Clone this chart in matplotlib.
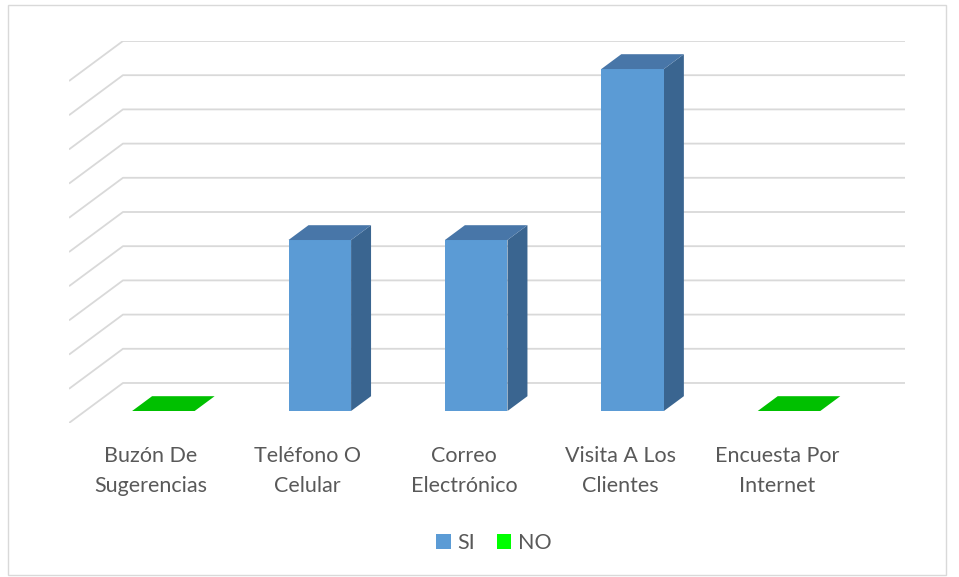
import numpy as np
import matplotlib
matplotlib.use("Agg")
import matplotlib.pyplot as plt
from matplotlib.patches import Polygon, Patch, Rectangle

plt.rcParams['font.family'] = ['Lato', 'DejaVu Sans']

# --- data -------------------------------------------------------------
categories = ["Buzón De\nSugerencias", "Teléfono O\nCelular", "Correo\nElectrónico",
              "Visita A Los\nClientes", "Encuesta Por\nInternet"]
si_values = [0, 5, 5, 10, 0]
no_values = [0, np.nan, np.nan, np.nan, 0]   # blank cells are not drawn
series_names = ["SI", "NO"]
y_max = 10

# --- styling ----------------------------------------------------------
si_front, si_top, si_side = "#5B9BD5", "#4876A8", "#3A6590"
no_front, no_top, no_side = "#00FF00", "#00C000", "#00A000"
grid_col = "#D9D9D9"
text_col = "#595959"

# oblique depth offset (full floor depth) in data units
DX, DY = 0.345, 1.17
D0, D1 = 0.30, 0.67       # bar depth span (fraction of floor depth)
BW = 0.4                  # bar width (category units)

W, H = 959, 577
fig = plt.figure(figsize=(W / 100, H / 100), dpi=100)
ax = fig.add_axes([69 / W, (H - 423) / H, (905 - 69) / W, (423 - 41) / H])
n = len(categories)
ax.set_xlim(0, n + DX)
ax.set_ylim(0, y_max + DY)
ax.axis("off")

# outer chart frame
fig.patches.append(Rectangle((8 / W, 2 / H), (946 - 8) / W, (572 - 2) / H,
                             transform=fig.transFigure, fill=False,
                             edgecolor=grid_col, lw=1.0))

# gridlines on side wall and back wall
for v in range(0, y_max + 1):
    ax.plot([0, DX, n + DX], [v, v + DY, v + DY], color=grid_col, lw=1.3,
            solid_capstyle="butt", zorder=1)


def box(x0, y0, h, front, top, side, z):
    """Draw an oblique 3-D column from (x0, y0) with height h."""
    fx0, fy0 = x0 + D0 * DX, y0 + D0 * DY
    ddx, ddy = (D1 - D0) * DX, (D1 - D0) * DY
    y1 = fy0 + h
    if h > 0:
        ax.add_patch(Polygon([(fx0 + BW, fy0), (fx0 + BW + ddx, fy0 + ddy),
                              (fx0 + BW + ddx, y1 + ddy), (fx0 + BW, y1)],
                             closed=True, fc=side, ec="none", zorder=z))
        ax.add_patch(Polygon([(fx0, fy0), (fx0 + BW, fy0), (fx0 + BW, y1), (fx0, y1)],
                             closed=True, fc=front, ec="none", zorder=z + 0.1))
    ax.add_patch(Polygon([(fx0, y1), (fx0 + BW, y1), (fx0 + BW + ddx, y1 + ddy),
                          (fx0 + ddx, y1 + ddy)],
                         closed=True, fc=top, ec="none", zorder=z + 0.2))


for i in range(n):
    x0 = i + 0.5 - BW / 2
    base = 0.0
    s = si_values[i]
    no = no_values[i]
    if s > 0:
        box(x0, base, s, si_front, si_top, si_side, 3 + i)
        base += s
    if not np.isnan(no):
        if no > 0 or s == 0:
            box(x0, base, no, no_front, no_top, no_side, 3.5 + i)
    ax.text(i + 0.5 + 0.025, -0.68, categories[i], ha="center", va="top",
            fontsize=15.5, color=text_col, linespacing=1.62)

handles = [Patch(facecolor=si_front, edgecolor="none"),
           Patch(facecolor=no_front, edgecolor="none")]
fig.legend(handles, series_names, loc="center", bbox_to_anchor=(494 / W, 1 - 543 / H),
           ncol=2, frameon=False, fontsize=15.5, handlelength=0.68, handleheight=0.68,
           handletextpad=0.3, columnspacing=1.0, labelcolor=text_col)

fig.savefig("out.png", dpi=100)
